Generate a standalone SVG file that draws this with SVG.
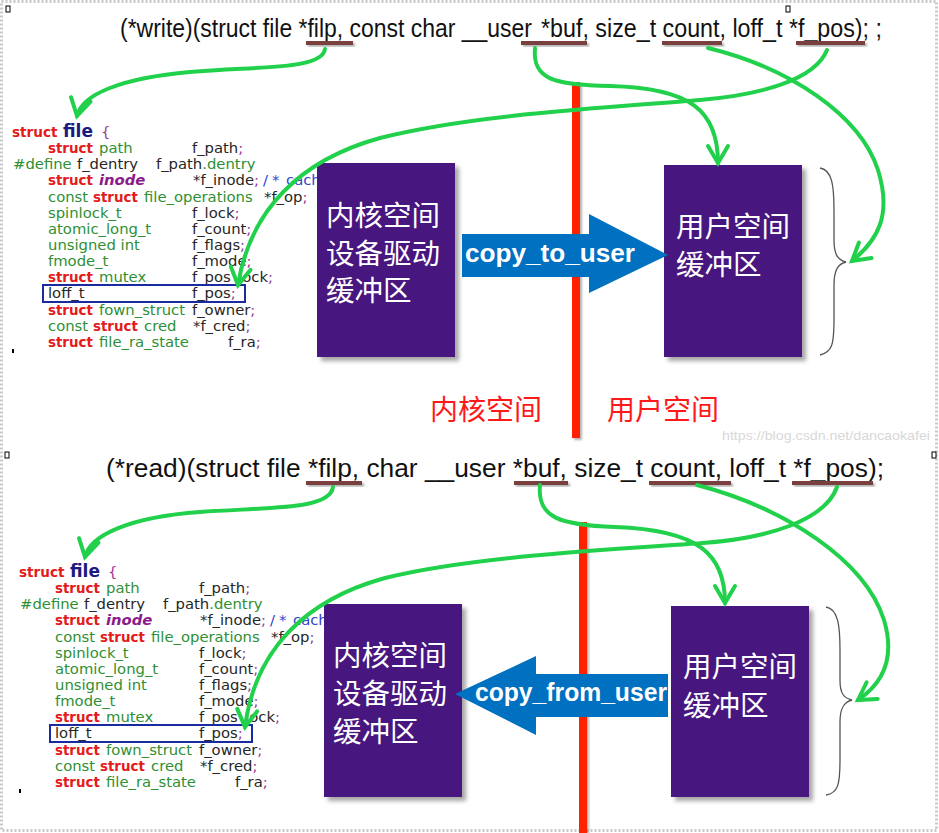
<svg xmlns="http://www.w3.org/2000/svg" width="939" height="833" viewBox="0 0 939 833">
<style>
.hdr{font-family:"Liberation Sans",Arial,sans-serif;font-size:25px;fill:#111}
.code{font-family:"DejaVu Sans",Verdana,sans-serif;font-size:14.8px}
.kw{fill:#e31b1b;font-weight:bold;font-size:13.4px}
.ty{fill:#2f8f34}
.id{fill:#262626}
.pu{fill:#9b3a9b}
.cm{fill:#3344cc}
.box{fill:#47127f}
.cjk{font-family:"Noto Sans CJK SC",sans-serif;font-size:28.5px;fill:#fff}
.lbl{font-family:"Noto Sans CJK SC",sans-serif;font-size:28px;fill:#ff1a1a}
.cp{font-family:"Liberation Sans",Arial,sans-serif;font-weight:bold;fill:#fff}
.ul{fill:#7a3f3f}
.g{fill:none;stroke:#21d04b;stroke-width:4;stroke-linecap:round}
.brace{fill:none;stroke:#555;stroke-width:1.3}
</style>
<defs>
<filter id="sh" x="-10%" y="-10%" width="130%" height="130%"><feDropShadow dx="4" dy="4" stdDeviation="2" flood-color="#000" flood-opacity="0.35"/></filter>
<filter id="sh2" x="-50%" y="-50%" width="200%" height="200%"><feDropShadow dx="2" dy="2" stdDeviation="1.2" flood-color="#000" flood-opacity="0.3"/></filter>
<marker id="ah" markerUnits="userSpaceOnUse" markerWidth="30" markerHeight="30" viewBox="-22 -15 30 30" refX="0" refY="0" orient="auto"><path d="M-17,-10 L0,0 L-17,10" fill="none" stroke="#21d04b" stroke-width="4" stroke-linecap="round"/></marker>
</defs>
<rect width="939" height="833" fill="#fff"/>
<rect x="1.5" y="1.5" width="935" height="829" fill="none" stroke="#c8c8c8" stroke-width="3" stroke-dasharray="2 2"/>
<g fill="#fff" stroke="#000" stroke-width="1">
<rect x="6" y="6" width="4" height="6"/><rect x="786" y="6" width="4" height="6"/><rect x="5" y="452" width="4" height="6"/><rect x="932" y="452" width="4" height="6"/>
</g>

<!-- red dividers -->
<g id="divider-top" filter="url(#sh2)"><rect x="572" y="82" width="8" height="356" fill="#ff2200"/></g>
<g id="divider-bottom" filter="url(#sh2)"><rect x="579" y="522" width="8" height="311" fill="#ff2200"/></g>

<!-- headers -->
<g id="header-write">
<text class="hdr" x="120" y="37" textLength="412" lengthAdjust="spacingAndGlyphs">(*write)(struct file *filp, const char __user</text>
<text class="hdr" x="541" y="37" textLength="341" lengthAdjust="spacingAndGlyphs">*buf, size_t count, loff_t *f_pos); ;</text>
<g filter="url(#sh2)"><rect class="ul" x="306" y="41" width="47" height="4"/><rect class="ul" x="521" y="41" width="66" height="4"/><rect class="ul" x="662" y="41" width="60" height="4"/><rect class="ul" x="796" y="41" width="69" height="4"/></g>
</g>
<g id="header-read">
<text class="hdr" x="106" y="477" textLength="778" lengthAdjust="spacingAndGlyphs">(*read)(struct file *filp, char __user *buf, size_t count, loff_t *f_pos);</text>
<g filter="url(#sh2)"><rect class="ul" x="306" y="481" width="56" height="4"/><rect class="ul" x="514" y="481" width="54" height="4"/><rect class="ul" x="649" y="481" width="82" height="4"/><rect class="ul" x="792" y="481" width="81" height="4"/></g>
</g>

<!-- struct file (top) -->
<g id="struct-file-top" class="code">
<text y="137"><tspan x="12" class="kw" style="font-size:13.6px">struct</tspan><tspan x="63" style="font-weight:bold;font-size:17px;fill:#1a1a80">file</tspan><tspan x="101" class="pu">{</tspan></text>
<text y="153"><tspan x="48" class="kw">struct</tspan><tspan x="99" class="ty">path</tspan><tspan x="192" class="id">f_path</tspan><tspan class="pu">;</tspan></text>
<text y="169.2"><tspan x="13" class="ty">#define</tspan><tspan x="77" class="id">f_dentry</tspan><tspan x="156" class="id">f_path</tspan><tspan class="ty">.dentry</tspan></text>
<text y="185.3"><tspan x="48" class="kw">struct</tspan><tspan x="99" style="fill:#8b1a8b;font-weight:bold;font-style:italic">inode</tspan><tspan x="193" class="id">*f_inode</tspan><tspan class="pu">;</tspan><tspan x="263" class="cm">/</tspan><tspan x="272" class="cm">*</tspan><tspan x="286" class="cm">cach</tspan></text>
<text y="201.5"><tspan x="48" class="ty">const</tspan><tspan x="93" class="kw">struct</tspan><tspan x="144" class="ty">file_operations</tspan><tspan x="264" class="id">*f_op</tspan><tspan class="pu">;</tspan></text>
<text y="217.6"><tspan x="48" class="ty">spinlock_t</tspan><tspan x="192" class="id">f_lock</tspan><tspan class="pu">;</tspan></text>
<text y="233.8"><tspan x="48" class="ty">atomic_long_t</tspan><tspan x="192" class="id">f_count</tspan><tspan class="pu">;</tspan></text>
<text y="249.9"><tspan x="48" class="ty">unsigned int</tspan><tspan x="192" class="id">f_flags</tspan><tspan class="pu">;</tspan></text>
<text y="266"><tspan x="48" class="ty">fmode_t</tspan><tspan x="192" class="id">f_mode</tspan><tspan class="pu">;</tspan></text>
<text y="282.2"><tspan x="48" class="kw">struct</tspan><tspan x="99" class="ty">mutex</tspan><tspan x="192" class="id">f_pos_lock</tspan><tspan class="pu">;</tspan></text>
<rect x="43" y="285" width="202" height="17" fill="none" stroke="#1a2aa0" stroke-width="2"/>
<text y="298.4"><tspan x="48" class="id">loff_t</tspan><tspan x="192" class="id">f_pos</tspan><tspan class="pu">;</tspan></text>
<text y="314.5"><tspan x="48" class="kw">struct</tspan><tspan x="99" class="ty">fown_struct</tspan><tspan x="192" class="id">f_owner</tspan><tspan class="pu">;</tspan></text>
<text y="330.7"><tspan x="48" class="ty">const</tspan><tspan x="93" class="kw">struct</tspan><tspan x="144" class="ty">cred</tspan><tspan x="193" class="id">*f_cred</tspan><tspan class="pu">;</tspan></text>
<text y="346.8"><tspan x="48" class="kw">struct</tspan><tspan x="99" class="ty">file_ra_state</tspan><tspan x="228" class="id">f_ra</tspan><tspan class="pu">;</tspan></text>
<rect x="12" y="349" width="2" height="4" fill="#000"/>
</g>

<!-- struct file (bottom) -->
<g id="struct-file-bottom" class="code" transform="translate(7,440)">
<text y="137"><tspan x="12" class="kw" style="font-size:13.6px">struct</tspan><tspan x="63" style="font-weight:bold;font-size:17px;fill:#1a1a80">file</tspan><tspan x="101" class="pu">{</tspan></text>
<text y="153"><tspan x="48" class="kw">struct</tspan><tspan x="99" class="ty">path</tspan><tspan x="192" class="id">f_path</tspan><tspan class="pu">;</tspan></text>
<text y="169.2"><tspan x="13" class="ty">#define</tspan><tspan x="77" class="id">f_dentry</tspan><tspan x="156" class="id">f_path</tspan><tspan class="ty">.dentry</tspan></text>
<text y="185.3"><tspan x="48" class="kw">struct</tspan><tspan x="99" style="fill:#8b1a8b;font-weight:bold;font-style:italic">inode</tspan><tspan x="193" class="id">*f_inode</tspan><tspan class="pu">;</tspan><tspan x="263" class="cm">/</tspan><tspan x="272" class="cm">*</tspan><tspan x="286" class="cm">cach</tspan></text>
<text y="201.5"><tspan x="48" class="ty">const</tspan><tspan x="93" class="kw">struct</tspan><tspan x="144" class="ty">file_operations</tspan><tspan x="264" class="id">*f_op</tspan><tspan class="pu">;</tspan></text>
<text y="217.6"><tspan x="48" class="ty">spinlock_t</tspan><tspan x="192" class="id">f_lock</tspan><tspan class="pu">;</tspan></text>
<text y="233.8"><tspan x="48" class="ty">atomic_long_t</tspan><tspan x="192" class="id">f_count</tspan><tspan class="pu">;</tspan></text>
<text y="249.9"><tspan x="48" class="ty">unsigned int</tspan><tspan x="192" class="id">f_flags</tspan><tspan class="pu">;</tspan></text>
<text y="266"><tspan x="48" class="ty">fmode_t</tspan><tspan x="192" class="id">f_mode</tspan><tspan class="pu">;</tspan></text>
<text y="282.2"><tspan x="48" class="kw">struct</tspan><tspan x="99" class="ty">mutex</tspan><tspan x="192" class="id">f_pos_lock</tspan><tspan class="pu">;</tspan></text>
<rect x="43" y="285" width="202" height="17" fill="none" stroke="#1a2aa0" stroke-width="2"/>
<text y="298.4"><tspan x="48" class="id">loff_t</tspan><tspan x="192" class="id">f_pos</tspan><tspan class="pu">;</tspan></text>
<text y="314.5"><tspan x="48" class="kw">struct</tspan><tspan x="99" class="ty">fown_struct</tspan><tspan x="192" class="id">f_owner</tspan><tspan class="pu">;</tspan></text>
<text y="330.7"><tspan x="48" class="ty">const</tspan><tspan x="93" class="kw">struct</tspan><tspan x="144" class="ty">cred</tspan><tspan x="193" class="id">*f_cred</tspan><tspan class="pu">;</tspan></text>
<text y="346.8"><tspan x="48" class="kw">struct</tspan><tspan x="99" class="ty">file_ra_state</tspan><tspan x="228" class="id">f_ra</tspan><tspan class="pu">;</tspan></text>
<rect x="12" y="349" width="2" height="4" fill="#000"/>
</g>

<!-- top boxes -->
<g id="kernel-buffer-top">
<rect class="box" x="317" y="163" width="138" height="194" filter="url(#sh)"/>
<text class="cjk" x="326" y="226">内核空间</text>
<text class="cjk" x="326" y="264">设备驱动</text>
<text class="cjk" x="326" y="301">缓冲区</text>
</g>
<g id="user-buffer-top">
<rect class="box" x="664" y="165" width="138" height="192" filter="url(#sh)"/>
<text class="cjk" x="676" y="237">用户空间</text>
<text class="cjk" x="676" y="275">缓冲区</text>
</g>
<g id="copy-to-user">
<polygon points="462,234 589,234 589,214 668,255 589,293 589,277 462,277" fill="#0070c0"/>
<text class="cp" x="465" y="262" style="font-size:26px" textLength="170" lengthAdjust="spacingAndGlyphs">copy_to_user</text>
</g>
<path class="brace" d="M820,168 C832,170 834,185 834,210 L834,240 C834,255 838,260 846,262 C838,264 834,270 834,285 L834,320 C834,345 832,352 820,355"/>
<g id="labels-top">
<text class="lbl" x="430" y="420">内核空间</text>
<text class="lbl" x="607" y="420">用户空间</text>
</g>
<text x="722" y="440" style="font-family:'Liberation Sans',Arial,sans-serif;font-size:13px;fill:#d8d8d8" textLength="208" lengthAdjust="spacingAndGlyphs">https://blog.csdn.net/dancaokafei</text>

<!-- bottom boxes -->
<g id="kernel-buffer-bottom">
<rect class="box" x="324" y="604" width="138" height="193" filter="url(#sh)"/>
<text class="cjk" x="333" y="666">内核空间</text>
<text class="cjk" x="333" y="704">设备驱动</text>
<text class="cjk" x="333" y="742">缓冲区</text>
</g>
<g id="user-buffer-bottom">
<rect class="box" x="671" y="606" width="138" height="191" filter="url(#sh)"/>
<text class="cjk" x="683" y="677">用户空间</text>
<text class="cjk" x="683" y="716">缓冲区</text>
</g>
<g id="copy-from-user">
<polygon points="668,674 536,674 536,656 455,694 536,735 536,717 668,717" fill="#0070c0"/>
<text class="cp" x="475" y="701" style="font-size:25px" textLength="192" lengthAdjust="spacingAndGlyphs">copy_from_user</text>
</g>
<path class="brace" d="M826,607 C838,609 840,625 840,650 L840,680 C840,694 844,698 852,700 C844,702 840,708 840,722 L840,760 C840,785 838,793 826,795"/>

<!-- connectors -->
<g id="connectors">
<path class="g" marker-end="url(#ah)" d="M325,49 C322,70 260,66 190,72 C122,78 82,94 77,116"/>
<path class="g" marker-end="url(#ah)" d="M535,48 C532,80 555,85 610,86 C690,88 718,110 718,163"/>
<path class="g" marker-end="url(#ah)" d="M708,48 C790,68 860,115 878,170 C892,215 878,240 852,261"/>
<path class="g" marker-end="url(#ah)" d="M827,50 C815,80 760,95 700,100 C600,108 470,115 380,138 C300,160 250,210 238,285"/>
<path class="g" marker-end="url(#ah)" d="M333,487 C330,510 270,507 200,512 C130,517 90,535 85,557"/>
<path class="g" marker-end="url(#ah)" d="M540,485 C537,518 560,525 615,527 C700,530 725,555 725,603"/>
<path class="g" marker-end="url(#ah)" d="M697,485 C785,508 865,560 884,620 C896,660 882,684 858,700"/>
<path class="g" marker-end="url(#ah)" d="M837,487 C825,520 770,538 703,543 C600,550 470,557 385,578 C305,600 255,650 245,727"/>
</g>
</svg>
